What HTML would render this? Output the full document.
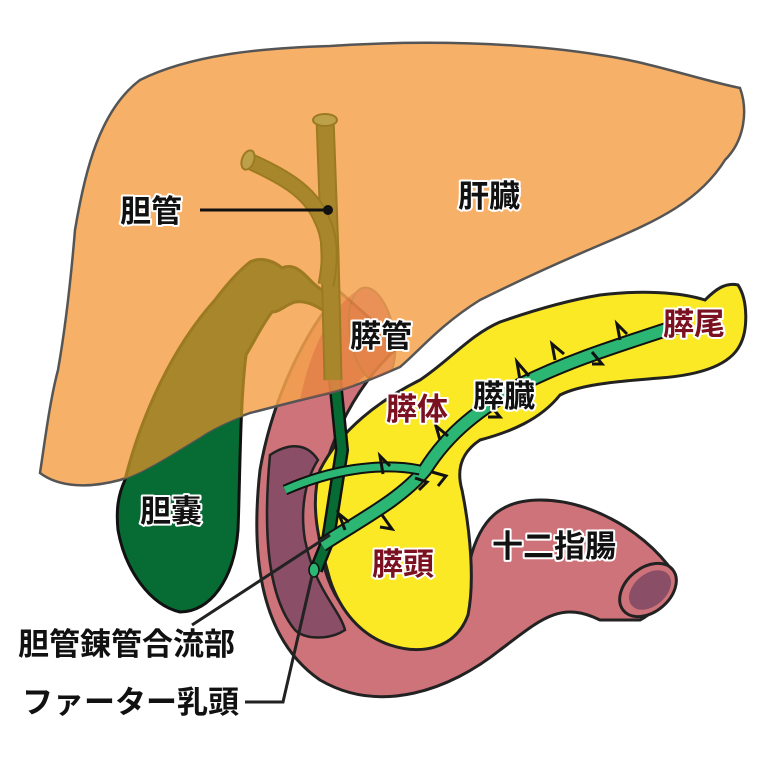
<!DOCTYPE html>
<html><head><meta charset="utf-8"><style>
html,body{margin:0;padding:0;background:#fff;}
svg{display:block}
text{font-family:"Liberation Sans","Noto Sans CJK JP",sans-serif;font-weight:bold;}
</style></head><body>
<svg width="768" height="768" viewBox="0 0 768 768" xmlns="http://www.w3.org/2000/svg">
<defs>
<path id="liver" d="M40,473 C45,440 50,400 58,370 C65,330 70,290 75,230 C85,170 100,110 140,80 C190,55 260,48 330,46 C420,40 520,42 600,55 C650,62 700,80 740,88 C748,110 745,140 725,160 C700,200 660,220 600,245 C560,262 520,280 480,300 C440,325 420,350 400,367 C370,380 350,388 330,393 C300,400 270,408 250,413 C230,420 210,430 200,437 C170,455 145,472 120,480 C90,488 60,488 40,473 Z"/>
<path id="gb" d="M125,480 C140,420 170,350 215,300 C230,280 240,270 250,262 C262,256 275,262 282,268 C295,262 305,275 312,282 C318,288 325,292 330,296 L326,312 C315,305 305,300 295,302 C285,305 280,312 272,312 C262,325 255,340 246,355 C240,400 240,480 238,530 C234,580 210,612 180,612 C150,605 125,570 118,530 C116,510 118,495 125,480 Z"/>
<clipPath id="lc"><use href="#liver"/></clipPath>
</defs>
<!-- duodenum -->
<path d="M340,292 C305,330 272,400 260,470 C250,560 262,640 320,680 C380,715 450,690 500,650 C540,620 560,600 600,620 L640,620 C660,610 680,580 668,565 C640,530 590,500 540,500 C500,500 480,520 470,560 C455,610 420,640 380,630 C340,620 320,580 318,520 C318,460 350,390 400,345 Z" fill="#cf737a" stroke="#222" stroke-width="3"/>
<ellipse cx="648" cy="590" rx="32" ry="22" transform="rotate(-40 648 590)" fill="#cf737a" stroke="#222" stroke-width="3"/>
<ellipse cx="650" cy="590" rx="24" ry="16" transform="rotate(-40 650 590)" fill="#8a4f66"/>
<path d="M270,455 C285,445 305,440 318,460 C305,480 300,510 305,540 C315,590 340,610 345,630 C330,640 305,640 295,630 C270,600 262,540 270,455 Z" fill="#8a4f66" stroke="#222" stroke-width="2.5"/>
<!-- pancreas -->
<path d="M320,470 C340,430 380,400 420,380 C450,360 470,335 500,322 C540,308 570,300 600,295 C640,290 680,292 705,300 C715,290 725,282 738,285 C748,300 748,330 740,345 C730,365 700,375 660,378 C610,382 580,385 560,395 C540,420 510,432 480,440 C465,450 455,465 462,490 C470,530 475,580 468,615 C455,650 420,655 390,645 C360,635 340,610 330,580 C322,550 308,510 320,470 Z" fill="#fbe925" stroke="#222" stroke-width="3"/>
<!-- gallbladder -->
<use href="#gb" fill="#076b34" stroke="#111" stroke-width="3"/>
<!-- bile duct lower -->
<path d="M335,380 L342,450 L328,540 L316,570" fill="none" stroke="#111" stroke-width="14"/>
<path d="M335,380 L342,450 L328,540 L316,570" fill="none" stroke="#076b34" stroke-width="9"/>
<ellipse cx="314" cy="570" rx="5" ry="7" fill="#2bb673" stroke="#111" stroke-width="1.5"/>
<!-- pancreatic ducts -->
<path d="M322,545 C360,520 400,500 425,470 C450,430 480,410 520,385 C570,360 620,345 665,330 L690,324" fill="none" stroke="#111" stroke-width="15"/>
<path d="M322,545 C360,520 400,500 425,470 C450,430 480,410 520,385 C570,360 620,345 665,330 L690,324" fill="none" stroke="#2bb673" stroke-width="11"/>
<path d="M285,490 C330,470 380,462 420,470" fill="none" stroke="#111" stroke-width="11"/>
<path d="M285,490 C330,470 380,462 420,470" fill="none" stroke="#2bb673" stroke-width="7"/>
<g fill="none" stroke="#111" stroke-width="3">
<path d="M345,530 l-6,-16 l10,8"/><path d="M382,515 l10,14 l-12,-2"/><path d="M383,474 l-3,-18 l10,10"/><path d="M415,478 l12,4 l-8,8"/>
<path d="M432,472 l14,4 l-8,10"/><path d="M440,440 l-4,-14 l12,10"/><path d="M490,405 l10,12 l-12,0"/><path d="M520,380 l-3,-18 l12,14"/>
<path d="M555,360 l-3,-16 l12,10"/><path d="M592,352 l10,12 l-10,0"/><path d="M620,340 l-3,-16 l10,10"/>
</g>
<!-- liver -->
<use href="#liver" fill="#f6a24c" fill-opacity="0.85" stroke="#555" stroke-width="2.5"/>
<!-- gallbladder seen through liver -->
<g clip-path="url(#lc)">
<use href="#gb" fill="#a8862b" stroke="#9b7a22" stroke-width="3"/>
</g>
<!-- duodenum top seen through liver -->
<g clip-path="url(#lc)" opacity="0.35">
<path d="M300,400 C310,350 330,310 355,292 L400,345 C380,360 360,380 345,395 Z" fill="#d05a3a"/>
<ellipse cx="372" cy="335" rx="22" ry="48" transform="rotate(-10 372 335)" fill="#d05a3a" stroke="#9b5a22" stroke-width="2"/>
</g>
<!-- bile duct in liver -->
<path d="M325,118 L330,255 L333,380" fill="none" stroke="#9b7a22" stroke-width="19"/>
<path d="M325,118 L330,255 L333,380" fill="none" stroke="#a8862b" stroke-width="15"/>
<path d="M247,160 C280,175 310,190 322,220 C332,240 330,265 326,285" fill="none" stroke="#9b7a22" stroke-width="17"/>
<path d="M247,160 C280,175 310,190 322,220 C332,240 330,265 326,285" fill="none" stroke="#a8862b" stroke-width="13"/>
<ellipse cx="325" cy="120" rx="12" ry="6" fill="#bda04a" stroke="#9b7a22" stroke-width="2"/>
<ellipse cx="248" cy="160" rx="6" ry="10" transform="rotate(20 248 160)" fill="#bda04a" stroke="#9b7a22" stroke-width="2"/>
<circle cx="328" cy="210" r="5" fill="#111"/>
<line x1="200" y1="210" x2="328" y2="210" stroke="#111" stroke-width="3"/>
<!-- leader lines -->
<polyline points="192,625 330,535" fill="none" stroke="#222" stroke-width="3"/>
<polyline points="245,702 283,702 312,576" fill="none" stroke="#222" stroke-width="3"/>
<!-- labels -->
<g font-size="31" stroke="#fff" stroke-width="4" paint-order="stroke" stroke-linejoin="round">
<text x="120" y="222" fill="#111">胆管</text>
<text x="458" y="207" fill="#111">肝臓</text>
<text x="350" y="347" fill="#111">膵管</text>
<text x="386" y="420" fill="#7a1020">膵体</text>
<text x="473" y="407" fill="#111">膵臓</text>
<text x="663" y="335" fill="#7a1020">膵尾</text>
<text x="140" y="522" fill="#111">胆嚢</text>
<text x="372" y="575" fill="#7a1020">膵頭</text>
<text x="492" y="557" fill="#111">十二指腸</text>
<text x="18" y="655" fill="#111">胆管錬管合流部</text>
<text x="22" y="713" fill="#111">ファーター乳頭</text>
</g>
</svg>
</body></html>
